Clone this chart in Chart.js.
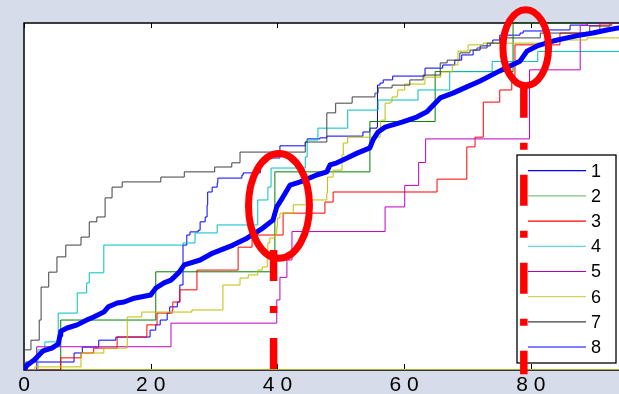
<!DOCTYPE html>
<html lang="en">

<head>
  <meta charset="UTF-8" />
  <title>Empirical CDFs</title>
  <script src="https://cdn.jsdelivr.net/npm/chart.js"></script>
  <style>
    html,
    body {
      margin: 0;
      padding: 0;
      overflow: hidden;
      background-color: #d6dcea;
    }

    canvas {
      display: block;
    }
  </style>
</head>

<body>
  <canvas id="cdfChart" width="700" height="394"></canvas>

  <script>
    // legend names
    const seriesLabels = ['1', '2', '3', '4', '5', '6', '7', '8'];

    // series 1..7 are step curves (x where the jump happens, new level)
    const s1x = [0, 0.3, 7.9, 9.2, 11.8, 14.5, 19.9, 20.8, 21.5, 22.6, 23.0, 24.2, 24.6, 25.1, 25.7, 26.2, 27.5, 27.8, 28.6, 28.9, 29.0, 29.7, 30.5, 30.6, 34.4, 34.6, 37.3, 37.6, 40.4, 44.4, 44.7, 46.7, 47.8, 53.5, 54.6, 55.7, 55.8, 56.2, 56.7, 58.2, 63.3, 66.1, 68.0, 69.1, 70.9, 72.0, 73.6, 74.0, 75.1, 78.3, 78.8, 81.9, 86.2, 88.9, 100];
    const s1y = [0, 2.3, 4.9, 6.6, 8.6, 9.5, 11.5, 13.0, 14.4, 16.4, 18.2, 19.6, 24.5, 36.0, 38.9, 39.8, 40.3, 42.7, 44.1, 47.6, 51.3, 52.7, 53.9, 55.3, 56.2, 56.8, 60.5, 61.1, 64.6, 65.7, 66.6, 66.9, 67.4, 68.6, 69.7, 70.0, 82.1, 82.7, 83.6, 84.7, 87.0, 87.9, 89.3, 90.8, 92.2, 93.4, 94.2, 95.1, 96.5, 97.1, 97.7, 98.0, 99.4, 100, 100];

    const s2x = [0, 5.8, 20.8, 39.6, 54.6, 64.9, 77.2, 100];
    const s2y = [0, 14.4, 28.3, 57.1, 71.6, 86.0, 100, 100];

    const s3x = [0, 5.8, 9.0, 11.0, 14.7, 19.4, 21.0, 23.4, 23.5, 24.6, 27.3, 33.8, 36.0, 40.9, 47.5, 48.8, 65.2, 69.9, 71.2, 72.5, 75.1, 77.0, 77.5, 84.6, 90.9, 92.8, 100];
    const s3y = [0, 3.5, 4.9, 6.3, 9.5, 13.0, 16.4, 17.3, 19.6, 23.1, 28.8, 35.4, 38.9, 45.2, 48.4, 51.3, 55.0, 64.3, 67.1, 77.2, 80.7, 83.6, 93.7, 97.1, 99.4, 100, 100];

    const s4x = [0, 2.2, 3.3, 5.4, 8.4, 9.9, 10.3, 12.6, 25.1, 27.0, 30.5, 36.9, 38.5, 39.0, 44.4, 44.7, 46.4, 51.1, 55.9, 62.2, 67.2, 73.9, 81.1, 100];
    const s4y = [0, 5.8, 8.1, 16.4, 22.2, 25.1, 28.0, 36.0, 36.6, 39.5, 41.8, 49.0, 52.7, 58.2, 61.4, 66.3, 69.7, 74.9, 77.8, 80.7, 86.0, 88.9, 91.8, 91.8];

    const s5x = [0, 2.0, 23.2, 39.9, 40.4, 41.5, 42.3, 57.0, 60.1, 62.3, 63.4, 79.8, 87.8, 90.9, 100];
    const s5y = [0, 6.7, 13.5, 20.2, 26.7, 31.7, 39.9, 47.0, 53.2, 59.8, 66.6, 86.5, 99.3, 100, 100];

    const s6x = [0, 1.7, 9.0, 12.6, 16.3, 18.6, 26.5, 31.4, 34.1, 35.4, 36.9, 37.6, 38.4, 38.5, 38.8, 39.6, 39.9, 40.0, 40.4, 42.5, 45.3, 47.8, 47.9, 48.8, 50.2, 50.4, 51.1, 56.2, 56.3, 57.0, 57.8, 58.1, 58.9, 59.0, 60.1, 63.3, 65.8, 67.6, 68.5, 70.1, 72.5, 82.2, 88.9, 100];
    const s6y = [0, 0.9, 4.9, 6.3, 15.3, 16.7, 17.3, 24.5, 26.5, 27.4, 28.8, 29.7, 31.7, 36.6, 38.0, 38.9, 41.2, 43.8, 45.2, 47.6, 49.0, 51.0, 55.6, 57.6, 62.0, 65.4, 67.1, 68.6, 72.0, 76.9, 77.2, 78.7, 79.3, 80.7, 82.4, 84.4, 85.9, 87.9, 91.9, 93.7, 94.2, 95.1, 95.7, 95.7];

    const s7x = [0, 0, 1.1, 2.4, 2.7, 3.9, 5.2, 6.6, 9.0, 10.3, 11.5, 12.8, 13.9, 15.5, 21.6, 25.3, 30.1, 32.8, 34.1, 44.4, 47.8, 49.2, 51.8, 55.4, 55.9, 58.1, 60.9, 63.0, 65.7, 66.8, 68.8, 70.4, 71.5, 73.1, 75.1, 81.5, 89.3, 92.5, 100];
    const s7y = [0, 5.8, 8.6, 14.4, 23.9, 28.2, 32.6, 36.0, 38.3, 42.7, 44.1, 49.6, 52.7, 54.2, 55.6, 57.1, 58.5, 59.7, 62.8, 65.7, 74.1, 76.9, 78.7, 79.8, 81.3, 82.1, 83.6, 85.0, 88.5, 89.3, 91.4, 92.2, 92.8, 94.2, 95.7, 97.1, 99.1, 100, 100];

    // series 8: the thick averaged curve
    const s8x = [0, 0.5, 1.6, 3.0, 4.4, 5.4, 5.7, 5.8, 6.8, 8.4, 9.9, 11.0, 12.6, 13.3, 14.7, 15.8, 17.4, 20.0, 20.8, 22.1, 23.2, 24.5, 25.3, 27.8, 29.8, 33.0, 35.2, 37.7, 39.3, 39.9, 40.9, 42.0, 43.6, 46.2, 47.8, 48.3, 49.4, 51.0, 52.6, 54.6, 55.1, 55.9, 57.0, 59.8, 62.0, 63.6, 64.9, 65.7, 67.7, 69.9, 72.0, 75.1, 76.7, 78.3, 79.4, 81.0, 83.5, 85.7, 87.8, 89.8, 92.0, 93.9, 100];
    const s8y = [0, 1.4, 2.9, 5.5, 6.3, 7.5, 10.1, 11.2, 12.1, 13.0, 14.4, 15.3, 16.7, 18.2, 19.3, 19.6, 20.7, 21.6, 23.6, 25.1, 25.9, 28.2, 30.3, 31.7, 33.7, 36.0, 38.0, 40.9, 43.2, 47.0, 49.9, 53.3, 54.2, 56.2, 57.1, 59.1, 59.7, 61.1, 62.5, 64.0, 66.3, 68.6, 70.0, 71.5, 72.9, 74.4, 76.9, 78.4, 79.8, 81.6, 83.3, 86.2, 87.6, 89.0, 91.9, 93.4, 94.8, 95.7, 96.5, 97.1, 98.0, 98.6, 100];

    // line lying on the x axis
    const baseX = [0, 100];
    const baseY = [0, 0];

    // red dash-dot markers (x, top, bottom)
    const markX = [39.4, 78.9];
    const markTop = [34.6, 81.6];
    const markBottom = [0, -1.2];

    // red rings (centre and radii in data units)
    const ringX = [40.25, 79.2];
    const ringY = [47.3, 92.9];
    const ringRX = [4.81, 3.6];
    const ringRY = [15.1, 10.95];

    const xTickStep = 20;

    const lineColors = ['#0000ff', '#008000', '#ff0000', '#00bfbf', '#bf00bf', '#bfbf00', '#404040'];
    const legendColors = ['#0000ff', '#7fbf7f', '#ff0000', '#66d6d6', '#b000c0', '#d2d25e', '#404040', '#8080ff'];
    const fontFamily = '"Liberation Sans", Arial, sans-serif';

    const toXY = (xs, ys) => xs.map((x, i) => ({ x: x, y: ys[i] }));

    const steps = [[s1x, s1y], [s2x, s2y], [s3x, s3y], [s4x, s4y], [s5x, s5y], [s6x, s6y], [s7x, s7y]];

    const datasets = steps.map(([xs, ys], i) => ({
      label: seriesLabels[i],
      data: toXY(xs, ys),
      borderColor: lineColors[i],
      borderWidth: 1,
      stepped: 'before',
      pointRadius: 0,
      fill: false,
      order: 20 - i
    }));

    datasets.push({
      label: seriesLabels[7],
      data: toXY(s8x, s8y),
      borderColor: '#0000ff',
      borderWidth: 5,
      borderJoinStyle: 'round',
      borderCapStyle: 'round',
      tension: 0,
      pointRadius: 0,
      fill: false,
      order: 2
    });

    datasets.push({
      label: 'base',
      data: toXY(baseX, baseY),
      borderColor: '#a3b22a',
      borderWidth: 2,
      pointRadius: 0,
      fill: false,
      order: 30
    });

    markX.forEach((x, i) => {
      datasets.push({
        label: 'mark' + i,
        data: [{ x: x, y: markTop[i] }, { x: x, y: markBottom[i] }],
        borderColor: '#ff0000',
        borderWidth: 7.5,
        borderDash: [31, 25, 7, 25],
        borderCapStyle: 'butt',
        pointRadius: 0,
        fill: false,
        clip: false,
        order: 0
      });
    });

    // white plot area, frame, inward ticks and the boxed legend
    const framePlugin = {
      id: 'frame',
      beforeDraw(chart) {
        const { ctx, chartArea: a } = chart;
        ctx.save();
        ctx.fillStyle = '#ffffff';
        ctx.fillRect(a.left, a.top, a.right - a.left, a.bottom - a.top);
        ctx.restore();
      },
      beforeDatasetsDraw(chart) {
        const { ctx, chartArea: a } = chart;
        const xs = chart.scales.x;
        ctx.save();
        ctx.strokeStyle = '#000000';
        ctx.lineWidth = 1.5;
        ctx.strokeRect(a.left, a.top, a.right - a.left, a.bottom - a.top);

        ctx.lineWidth = 1;
        xs.ticks.forEach(t => {
          const px = Math.round(xs.getPixelForValue(t.value)) + 0.5;
          ctx.beginPath();
          ctx.moveTo(px, a.bottom);
          ctx.lineTo(px, a.bottom - 6);
          ctx.moveTo(px, a.top);
          ctx.lineTo(px, a.top + 5);
          ctx.stroke();
        });

        // legend
        const left = 517, top = 155, w = 99, h = 208;
        ctx.fillStyle = '#ffffff';
        ctx.fillRect(left, top, w, h);
        ctx.strokeStyle = '#000000';
        ctx.lineWidth = 1.3;
        ctx.strokeRect(left, top, w, h);
        ctx.font = '18px ' + fontFamily;
        ctx.textBaseline = 'middle';
        ctx.textAlign = 'left';
        seriesLabels.forEach((lab, i) => {
          const y = 170.7 + i * 25.2;
          ctx.strokeStyle = legendColors[i];
          ctx.lineWidth = i === 7 ? 2 : 1.2;
          ctx.beginPath();
          ctx.moveTo(528, y);
          ctx.lineTo(586, y);
          ctx.stroke();
          ctx.fillStyle = '#000000';
          ctx.fillText(lab, 591, y + 1);
        });
        ctx.restore();
      }
    };

    // red rings drawn on top of everything
    const ringPlugin = {
      id: 'rings',
      afterDatasetsDraw(chart) {
        const { ctx } = chart;
        const xs = chart.scales.x, ys = chart.scales.y;
        ctx.save();
        ctx.strokeStyle = '#ff0000';
        ctx.lineWidth = 7;
        ringX.forEach((cx, i) => {
          const px = xs.getPixelForValue(cx);
          const py = ys.getPixelForValue(ringY[i]);
          const rx = xs.getPixelForValue(cx + ringRX[i]) - px;
          const ry = py - ys.getPixelForValue(ringY[i] + ringRY[i]);
          ctx.beginPath();
          ctx.ellipse(px, py, rx, ry, 0, 0, Math.PI * 2);
          ctx.stroke();
        });
        ctx.restore();
      }
    };

    const ctx = document.getElementById('cdfChart').getContext('2d');
    const chart = new Chart(ctx, {
      type: 'line',
      data: { datasets },
      options: {
        responsive: false,
        animation: false,
        devicePixelRatio: 1,
        layout: { padding: { left: 24, top: 23, right: 42.5, bottom: 0 } },
        plugins: {
          legend: { display: false },
          tooltip: { enabled: false }
        },
        scales: {
          x: {
            type: 'linear',
            min: 0,
            max: 100,
            grid: { display: false, drawTicks: false },
            border: { display: false },
            afterFit: scale => { scale.height = 24; },
            ticks: {
              stepSize: xTickStep,
              maxRotation: 0,
              autoSkip: false,
              padding: 3,
              color: '#000000',
              font: { family: fontFamily, size: 21 },
              // the axis prints digits spaced apart ("2 0")
              callback: v => String(v).split('').join('\u2009\u200a')
            }
          },
          y: {
            type: 'linear',
            min: 0,
            max: 100,
            display: false
          }
        }
      },
      plugins: [framePlugin, ringPlugin]
    });
  </script>
</body>

</html>
